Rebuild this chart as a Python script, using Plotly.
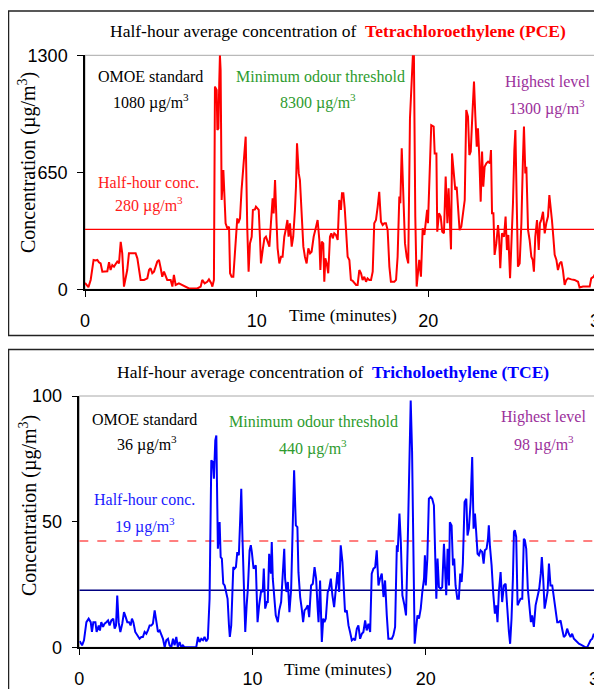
import plotly.graph_objects as go

W, H = 602, 689
PAGE_OFFSET = 8  # the page body margin shifts the figure by this many pixels

# ---------------- data ----------------
x_ticks = [0, 10, 20, 30]
pce_yticks = [0, 650, 1300]
tce_yticks = [0, 50, 100]

pce_t = [0.0, 0.08, 0.2, 0.33, 0.5, 0.62, 0.72, 0.81, 0.91, 1.01, 1.2, 1.3, 1.4, 1.49, 1.59, 1.69, 1.88, 1.98,
         2.08, 2.17, 2.27, 2.46, 2.56, 2.76, 2.95, 3.05, 3.14, 3.24, 3.44, 3.63, 3.73, 3.82, 3.92, 4.02, 4.21,
         4.31, 4.41, 4.5, 4.6, 4.7, 4.79, 4.99, 5.09, 5.18, 5.28, 5.47, 5.67, 5.86, 6.06, 6.35, 6.54, 6.74, 6.83,
         6.97, 7.12, 7.22, 7.36, 7.42, 7.51, 7.57, 7.67, 7.71, 7.77, 7.82, 7.86, 7.9, 7.96, 8.06, 8.1, 8.19,
         8.29, 8.39, 8.45, 8.54, 8.64, 8.77, 8.87, 8.93, 9.03, 9.12, 9.26, 9.36, 9.45, 9.53, 9.61, 9.71, 9.78,
         9.9, 9.96, 10.12, 10.19, 10.25, 10.35, 10.45, 10.54, 10.64, 10.74, 10.83, 10.93, 10.99, 11.07, 11.16,
         11.22, 11.32, 11.42, 11.51, 11.61, 11.71, 11.79, 11.86, 11.94, 12.04, 12.13, 12.23, 12.29, 12.35, 12.45,
         12.52, 12.62, 12.72, 12.81, 12.91, 13.01, 13.11, 13.2, 13.32, 13.46, 13.55, 13.65, 13.71, 13.79, 13.88,
         13.94, 14.0, 14.08, 14.17, 14.27, 14.35, 14.43, 14.52, 14.62, 14.72, 14.81, 14.91, 14.97, 15.05, 15.13,
         15.2, 15.3, 15.4, 15.49, 15.59, 15.69, 15.79, 15.88, 15.98, 16.08, 16.17, 16.27, 16.37, 16.46, 16.56,
         16.66, 16.76, 16.85, 16.95, 17.05, 17.14, 17.24, 17.34, 17.44, 17.53, 17.63, 17.73, 17.82, 18.02, 18.12,
         18.21, 18.31, 18.37, 18.45, 18.54, 18.64, 18.74, 18.83, 18.93, 19.02, 19.1, 19.16, 19.24, 19.32, 19.42,
         19.47, 19.57, 19.67, 19.77, 19.86, 19.93, 19.98, 20.08, 20.17, 20.31, 20.37, 20.47, 20.52, 20.62, 20.72,
         20.81, 20.91, 21.01, 21.11, 21.18, 21.26, 21.32, 21.38, 21.48, 21.57, 21.65, 21.73, 21.82, 21.92, 22.02,
         22.12, 22.21, 22.31, 22.39, 22.47, 22.56, 22.66, 22.74, 22.82, 22.89, 22.97, 23.05, 23.13, 23.2, 23.28,
         23.38, 23.48, 23.59, 23.65, 23.71, 23.79, 23.86, 23.96, 24.06, 24.12, 24.19, 24.29, 24.41, 24.5, 24.58,
         24.66, 24.76, 24.83, 24.93, 25.01, 25.07, 25.15, 25.22, 25.32, 25.42, 25.51, 25.57, 25.65, 25.71, 25.81,
         25.9, 26.0, 26.08, 26.15, 26.23, 26.33, 26.43, 26.5, 26.58, 26.68, 26.78, 26.87, 26.97, 27.05, 27.13,
         27.2, 27.28, 27.36, 27.46, 27.55, 27.65, 27.75, 27.84, 27.94, 28.04, 28.14, 28.33, 28.52, 28.72, 28.81,
         29.01, 29.2, 29.4, 29.49, 29.63, 29.73, 29.84, 29.92, 30.0]
pce_v = [35, 24, 12, 52, 163, 160, 163, 150, 144, 98, 98, 100, 150, 107, 135, 126, 154, 144,
         264, 200, 15, 107, 200, 200, 200, 172, 107, 52, 52, 61, 107, 117, 89, 98, 154,
         163, 117, 70, 98, 70, 52, 52, 15, 80, 24, 33, 24, 15, 5, 5, 5, 15, 52,
         33, 42, 55, 33, 15, 52, 1126, 1107, 885, 894, 1144, 1300, 1218, 496, 663, 552, 367,
         339, 348, 89, 70, 70, 228, 394, 367, 394, 552, 718, 848, 348, 98, 255, 292, 441,
         444, 459, 441, 292, 144, 218, 283, 292, 265, 237, 367, 505, 422, 607, 367,
         228, 144, 181, 181, 292, 339, 385, 292, 367, 237, 292, 441, 570, 811, 644,
         607, 450, 237, 181, 144, 228, 200, 209, 292, 348, 385, 274, 107, 265, 255,
         42, 172, 144, 89, 292, 311, 283, 311, 302, 274, 496, 441, 533, 533, 450,
         348, 181, 163, 52, 47, 33, 24, 24, 107, 89, 52, 70, 42, 61, 52,
         52, 98, 367, 385, 459, 542, 376, 357, 367, 367, 329, 126, 42, 42, 52,
         181, 515, 478, 783, 552, 255, 181, 144, 950, 1150, 1300, 1300, 404, 15, 107,
         163, 70, 339, 302, 367, 441, 367, 681, 912, 904, 755, 755, 320, 422, 404,
         320, 311, 626, 367, 561, 329, 222, 755, 663, 552, 570, 441, 329, 348, 441,
         496, 996, 959, 746, 765, 959, 1154, 959, 792, 894, 737, 487, 765, 570, 681,
         700, 709, 700, 774, 422, 422, 191, 255, 357, 292, 117, 311, 292, 404, 218,
         302, 61, 200, 478, 774, 885, 478, 126, 144, 367, 718, 904, 644, 681, 329,
         274, 181, 163, 98, 292, 385, 218, 367, 385, 431, 311, 367, 404, 524, 459,
         385, 292, 191, 163, 107, 144, 154, 107, 24, 52, 61, 55, 52, 42, 10,
         15, 15, 15, 61, 70, 89, 126, 70, 5]
pce_halfhour_line = 333

tce_t = [0.0, 0.05, 0.16, 0.27, 0.41, 0.54, 0.66, 0.73, 0.81, 0.93, 1.0, 1.12, 1.19, 1.27, 1.37, 1.46, 1.56,
         1.66, 1.75, 1.85, 1.96, 2.04, 2.12, 2.19, 2.27, 2.37, 2.48, 2.58, 2.68, 2.77, 2.87, 2.96, 3.04, 3.12,
         3.23, 3.35, 3.48, 3.58, 3.67, 3.77, 3.87, 3.96, 4.06, 4.16, 4.25, 4.35, 4.44, 4.54, 4.64, 4.73, 4.83,
         4.93, 5.02, 5.12, 5.21, 5.31, 5.41, 5.5, 5.6, 5.69, 5.79, 5.89, 5.98, 6.08, 6.27, 6.46, 6.66, 6.75,
         6.85, 6.94, 7.04, 7.14, 7.23, 7.33, 7.42, 7.52, 7.62, 7.71, 7.77, 7.85, 7.91, 7.96, 8.0, 8.1, 8.16,
         8.23, 8.31, 8.39, 8.48, 8.56, 8.64, 8.69, 8.77, 8.83, 8.89, 8.96, 9.04, 9.12, 9.21, 9.29, 9.35, 9.42,
         9.5, 9.58, 9.66, 9.73, 9.83, 9.9, 9.96, 10.06, 10.19, 10.29, 10.38, 10.5, 10.59, 10.65, 10.73, 10.83,
         10.88, 10.96, 11.06, 11.11, 11.17, 11.25, 11.34, 11.46, 11.54, 11.65, 11.75, 11.83, 11.88, 11.96,
         12.04, 12.13, 12.23, 12.31, 12.4, 12.5, 12.59, 12.65, 12.75, 12.84, 12.92, 13.0, 13.09, 13.19, 13.27,
         13.38, 13.48, 13.58, 13.67, 13.75, 13.81, 13.9, 14.0, 14.08, 14.15, 14.23, 14.34, 14.42, 14.52, 14.61,
         14.71, 14.81, 14.9, 15.0, 15.09, 15.19, 15.27, 15.34, 15.44, 15.54, 15.63, 15.73, 15.83, 15.92, 16.02,
         16.11, 16.21, 16.31, 16.4, 16.5, 16.59, 16.69, 16.79, 16.88, 16.98, 17.08, 17.17, 17.27, 17.36, 17.46,
         17.56, 17.65, 17.75, 17.84, 18.04, 18.13, 18.23, 18.33, 18.38, 18.48, 18.56, 18.65, 18.77, 18.86,
         18.96, 19.04, 19.13, 19.21, 19.31, 19.36, 19.44, 19.52, 19.61, 19.71, 19.8, 19.9, 19.95, 20.0, 20.09,
         20.18, 20.28, 20.37, 20.47, 20.53, 20.61, 20.68, 20.76, 20.86, 20.95, 21.05, 21.11, 21.18, 21.26,
         21.34, 21.39, 21.49, 21.57, 21.64, 21.72, 21.82, 21.91, 21.99, 22.07, 22.14, 22.24, 22.34, 22.41,
         22.49, 22.59, 22.68, 22.76, 22.84, 22.91, 22.99, 23.07, 23.16, 23.26, 23.34, 23.41, 23.51, 23.59,
         23.64, 23.7, 23.8, 23.89, 23.99, 24.07, 24.14, 24.22, 24.32, 24.41, 24.51, 24.61, 24.7, 24.8, 24.87,
         24.95, 25.03, 25.09, 25.14, 25.22, 25.3, 25.37, 25.47, 25.57, 25.66, 25.72, 25.8, 25.89, 25.99, 26.07,
         26.14, 26.24, 26.34, 26.45, 26.55, 26.64, 26.7, 26.78, 26.86, 26.93, 27.03, 27.11, 27.2, 27.3, 27.39,
         27.49, 27.59, 27.68, 27.78, 27.87, 27.97, 28.07, 28.16, 28.26, 28.36, 28.45, 28.55, 28.64, 28.74,
         28.84, 29.03, 29.22, 29.32, 29.41, 29.51, 29.61, 29.7, 29.8, 29.89, 29.95, 30.0]
tce_v = [2.0, 2.1, 0.8, 2.8, 10.0, 11.4, 10.0, 6.1, 10.0, 10.0, 6.1, 8.7, 6.7, 10.0, 8.1, 9.4, 10.0,
         10.7, 8.7, 10.7, 11.4, 7.4, 8.7, 20.6, 10.0, 6.1, 9.4, 14.0, 12.0, 10.0, 10.0, 8.7, 11.4, 10.0,
         6.1, 4.8, 3.4, 4.1, 4.1, 6.1, 5.4, 6.7, 8.7, 8.7, 9.4, 14.7, 10.0, 6.1, 6.7, 5.4, 3.4,
         0.0, 2.8, 3.4, 0.8, 0.0, 3.4, 0.8, 4.1, 0.0, 2.1, 0.0, 0.8, 0.0, 0.0, 0.0, 0.0, 0.0,
         4.1, 2.1, 3.4, 2.8, 4.1, 2.4, 3.4, 19.3, 74.4, 73.7, 67.1, 82.3, 84.3, 63.1, 39.2, 49.8, 35.9,
         35.3, 25.3, 24.6, 21.3, 19.3, 8.7, 4.1, 8.7, 24.0, 31.9, 31.3, 31.9, 37.9, 36.6, 51.2, 63.1, 43.2,
         22.0, 6.1, 16.7, 23.3, 38.6, 40.6, 37.9, 31.3, 32.6, 10.0, 16.7, 22.7, 22.0, 31.3, 15.4, 18.0,
         18.0, 37.2, 29.3, 41.9, 27.3, 19.3, 12.7, 10.0, 14.7, 18.0, 32.6, 39.2, 27.3, 22.0,
         26.0, 14.0, 23.3, 41.9, 70.4, 48.5, 47.8, 29.9, 20.0, 15.4, 10.0, 14.7, 15.4, 16.7, 12.0,
         24.6, 25.3, 31.9, 27.3, 16.7, 10.0, 26.6, 2.1, 11.4, 10.0, 11.4, 22.0, 23.3, 27.3, 20.7,
         16.0, 23.3, 29.9, 22.0, 40.6, 33.9, 22.0, 14.0, 14.7, 8.7, 6.1, 2.8, 3.4, 2.8, 7.4,
         8.7, 3.4, 5.4, 6.1, 10.7, 6.7, 9.4, 6.1, 29.3, 31.3, 31.9, 38.6, 24.6, 27.3, 29.3,
         20.0, 26.6, 12.7, 3.4, 3.4, 4.8, 8.1, 40.6, 37.9, 53.2, 41.9, 20.7, 16.7, 12.7,
         41.9, 75.0, 98.2, 77.7, 27.3, 1.4, 7.4, 12.7, 11.4, 15.4, 22.0, 27.3, 36.6, 24.6, 35.3,
         59.1, 59.8, 59.1, 56.5, 41.9, 19.3, 35.3, 24.0, 23.3, 24.0, 41.2, 32.6, 20.7, 39.2,
         24.6, 49.8, 48.5, 32.6, 35.3, 24.6, 19.3, 19.3, 29.3, 26.0, 33.3, 57.8, 59.1, 44.5,
         47.2, 57.8, 75.7, 47.2, 53.2, 45.9, 37.2, 36.6, 38.6, 37.9, 33.3, 38.6, 39.2, 43.2,
         48.5, 40.6, 32.6, 22.0, 13.4, 16.7, 10.0, 22.0, 29.9, 18.0, 24.6, 25.3, 14.0, 6.1, 1.4,
         11.4, 27.3, 45.9, 46.6, 43.9, 16.7, 18.0, 19.3, 19.3, 43.2, 42.6, 39.2, 23.3, 14.0, 10.0,
         12.7, 8.1, 16.7, 20.7, 23.3, 29.3, 35.9, 27.3, 15.4, 18.0, 22.0, 33.3, 24.6, 24.6, 19.3,
         14.0, 10.0, 10.0, 10.7, 7.4, 4.1, 4.8, 7.4, 5.4, 4.1, 5.4, 3.4, 2.8, 2.1,
         1.4, 0.8, 0.0, 0.0, 1.4, 2.8, 3.4, 5.4, 3.4, 8.7, 10.0, 0.8]
tce_halfhour_line = 22.7
tce_odour_line = 42.3

# ---------------- helpers (layout only; window pixel -> paper) ----------------
def px(x):
    return (x - PAGE_OFFSET) / W


def py(y):
    return 1 - (y - PAGE_OFFSET) / H


SERIF = "Liberation Serif, Times New Roman, serif"
SANS = "Liberation Sans, Arial, sans-serif"
GREEN = "#2E9B2E"
PURPLE = "#9B309B"

fig = go.Figure()

# top panel
fig.add_trace(go.Scatter(x=[0, 30], y=[pce_halfhour_line] * 2, mode="lines",
                         line=dict(color="#FF0000", width=1.3), xaxis="x", yaxis="y", hoverinfo="skip"))
fig.add_trace(go.Scatter(x=pce_t, y=pce_v, mode="lines",
                         line=dict(color="#FF0000", width=2), xaxis="x", yaxis="y"))
# bottom panel
fig.add_trace(go.Scatter(x=[0, 30], y=[tce_odour_line] * 2, mode="lines",
                         line=dict(color="#FF0000", width=1.2, dash="dash"), xaxis="x2", yaxis="y2", hoverinfo="skip"))
fig.add_trace(go.Scatter(x=[0, 30], y=[tce_halfhour_line] * 2, mode="lines",
                         line=dict(color="#000080", width=1.3), xaxis="x2", yaxis="y2", hoverinfo="skip"))
fig.add_trace(go.Scatter(x=tce_t, y=tce_v, mode="lines",
                         line=dict(color="#0000FF", width=2), xaxis="x2", yaxis="y2"))

common_x = dict(range=[0, 30], tickvals=x_ticks, ticks="outside", ticklen=6, tickwidth=1.2,
                tickcolor="black", showline=True, linecolor="black", linewidth=1.5,
                showgrid=False, zeroline=False, tickfont=dict(family=SANS, size=18, color="black"),
                ticklabelstandoff=8, automargin=False, ticklabeloverflow="allow")
common_y = dict(ticks="outside", ticklen=6, tickwidth=1.2, tickcolor="black", showline=True,
                linecolor="black", linewidth=1.5, showgrid=False, zeroline=False,
                tickfont=dict(family=SANS, size=18, color="black"), ticklabelstandoff=6,
                automargin=False, ticklabeloverflow="allow")

fig.update_layout(
    width=W, height=H, autosize=False,
    margin=dict(l=0, r=0, t=0, b=0, pad=0),
    paper_bgcolor="white", plot_bgcolor="white",
    showlegend=False,
    xaxis=dict(domain=[px(85), px(600)], anchor="y", **common_x),
    yaxis=dict(domain=[py(289.3), py(55.3)], range=[0, 1300], tickvals=pce_yticks, anchor="x", **common_y),
    xaxis2=dict(domain=[px(79.3), px(599)], anchor="y2", **common_x),
    yaxis2=dict(domain=[py(647.3), py(396)], range=[0, 100], tickvals=tce_yticks, anchor="x2", **common_y),
)

shapes = [
    # outer frames
    dict(type="rect", xref="paper", yref="paper", x0=px(8.5), x1=px(640), y0=py(335.5), y1=py(11),
         line=dict(color="#222222", width=1.5), layer="below"),
    dict(type="rect", xref="paper", yref="paper", x0=px(8.5), x1=px(720), y0=py(740), y1=py(349.5),
         line=dict(color="#222222", width=1.5), layer="below"),
    # plot area borders
    dict(type="rect", xref="x domain", yref="y domain", x0=0, x1=1, y0=0, y1=1,
         line=dict(color="#A8A8A8", width=1), layer="below"),
    dict(type="rect", xref="x2 domain", yref="y2 domain", x0=0, x1=1, y0=0, y1=1,
         line=dict(color="#A8A8A8", width=1), layer="below"),
]
fig.update_layout(shapes=shapes)


def ann(text, x, y, size=16, color="black", angle=0):
    fig.add_annotation(text=text, x=px(x), y=py(y), xref="paper", yref="paper",
                       xanchor="center", yanchor="middle", showarrow=False, textangle=angle,
                       font=dict(family=SERIF, size=size, color=color))


# titles
ann("Half-hour average concentration of\u00a0 <span style='color:#FF0000'><b>Tetrachloroethylene (PCE)</b></span>",
    338, 31, size=17.5)
ann("Half-hour average concentration of\u00a0 <span style='color:#0000FF'><b>Tricholoethylene (TCE)</b></span>",
    333, 372, size=17.5)

# top panel texts
ann("OMOE standard", 150.5, 77)
ann("1080 \u00b5g/m<sup>3</sup>", 151, 102)
ann("Minimum odour threshold", 320, 77, color=GREEN)
ann("8300 \u00b5g/m<sup>3</sup>", 318, 102, color=GREEN)
ann("Highest level", 547, 82, color=PURPLE)
ann("1300 \u00b5g/m<sup>3</sup>", 547, 107, color=PURPLE)
ann("Half-hour conc.", 148, 182, color="#FF1A1A")
ann("280 \u00b5g/m<sup>3</sup>", 149, 205, color="#FF1A1A")
ann("Time (minutes)", 343, 315, size=17.5)
ann("Concentration (\u00b5g/m<sup>3</sup>)", 27, 163, size=20, angle=-90)

# bottom panel texts
ann("OMOE standard", 144.5, 419)
ann("36 \u00b5g/m<sup>3</sup>", 147, 444)
ann("Minimum odour threshold", 313, 421, color=GREEN)
ann("440 \u00b5g/m<sup>3</sup>", 313, 447, color=GREEN)
ann("Highest level", 543.5, 417, color=PURPLE)
ann("98 \u00b5g/m<sup>3</sup>", 543.5, 444, color=PURPLE)
ann("Half-hour conc.", 144.5, 499, color="#1A1AFF")
ann("19 \u00b5g/m<sup>3</sup>", 145, 525, color="#1A1AFF")
ann("Time (minutes)", 338, 669, size=17.5)
ann("Concentration (\u00b5g/m<sup>3</sup>)", 28, 506, size=20, angle=-90)

fig.write_html("out.html")
